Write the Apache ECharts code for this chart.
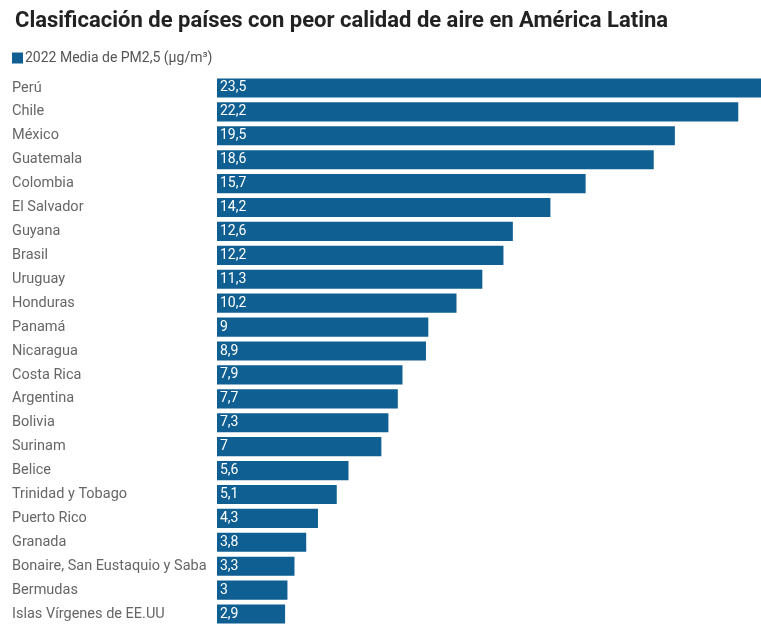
<!DOCTYPE html>
<html>
<head>
<meta charset="utf-8">
<script src="https://cdn.jsdelivr.net/npm/echarts@6/dist/echarts.min.js"></script>
<style>html,body{margin:0;padding:0;background:#fff;}#c{width:761px;height:626px;}</style>
</head>
<body>
<div id="c"></div>
<script>
const categories = ["Perú","Chile","México","Guatemala","Colombia","El Salvador","Guyana","Brasil","Uruguay","Honduras","Panamá","Nicaragua","Costa Rica","Argentina","Bolivia","Surinam","Belice","Trinidad y Tobago","Puerto Rico","Granada","Bonaire, San Eustaquio y Saba","Bermudas","Islas Vírgenes de EE.UU"];
const values = [23.5,22.2,19.5,18.6,15.7,14.2,12.6,12.2,11.3,10.2,9,8.9,7.9,7.7,7.3,7,5.6,5.1,4.3,3.8,3.3,3,2.9];
const seriesName = "2022 Media de PM2,5 (μg/m³)";
const titleText = "Clasificación de países con peor calidad de aire en América Latina";

const chart = echarts.init(document.getElementById('c'));
chart.setOption({
  animation: false,
  title: {
    text: titleText, left: 10, top: 5,
    textStyle: {fontFamily: 'Roboto', fontWeight: 'bold', fontSize: 22, color: '#222'}
  },
  legend: {
    left: 12, top: 51, itemWidth: 11, itemHeight: 11, itemGap: 4,
    icon: 'rect', padding: 0,
    textStyle: {fontFamily: 'Roboto', fontSize: 14, color: '#555', padding: [0,0,0,-3]},
    data: [seriesName]
  },
  grid: {left: 217, top: 76, width: 587, height: 550, containLabel: false, outerBoundsMode: 'none'},
  xAxis: {type: 'value', min: 0, max: 25, show: false},
  yAxis: {
    type: 'category', data: categories, inverse: true,
    axisLine: {show: false}, axisTick: {show: false},
    axisLabel: {align: 'left', margin: 205, fontFamily: 'Roboto', fontSize: 14.5, color: '#666'}
  },
  series: [{
    name: seriesName, type: 'bar', data: values, barCategoryGap: '20%',
    itemStyle: {color: '#0f5f92'},
    label: {
      show: true, position: 'insideLeft', offset: [-2, 0], color: '#fff',
      fontFamily: 'Roboto', fontSize: 14,
      formatter: p => String(p.value).replace('.', ',')
    }
  }]
});
</script>
</body>
</html>
